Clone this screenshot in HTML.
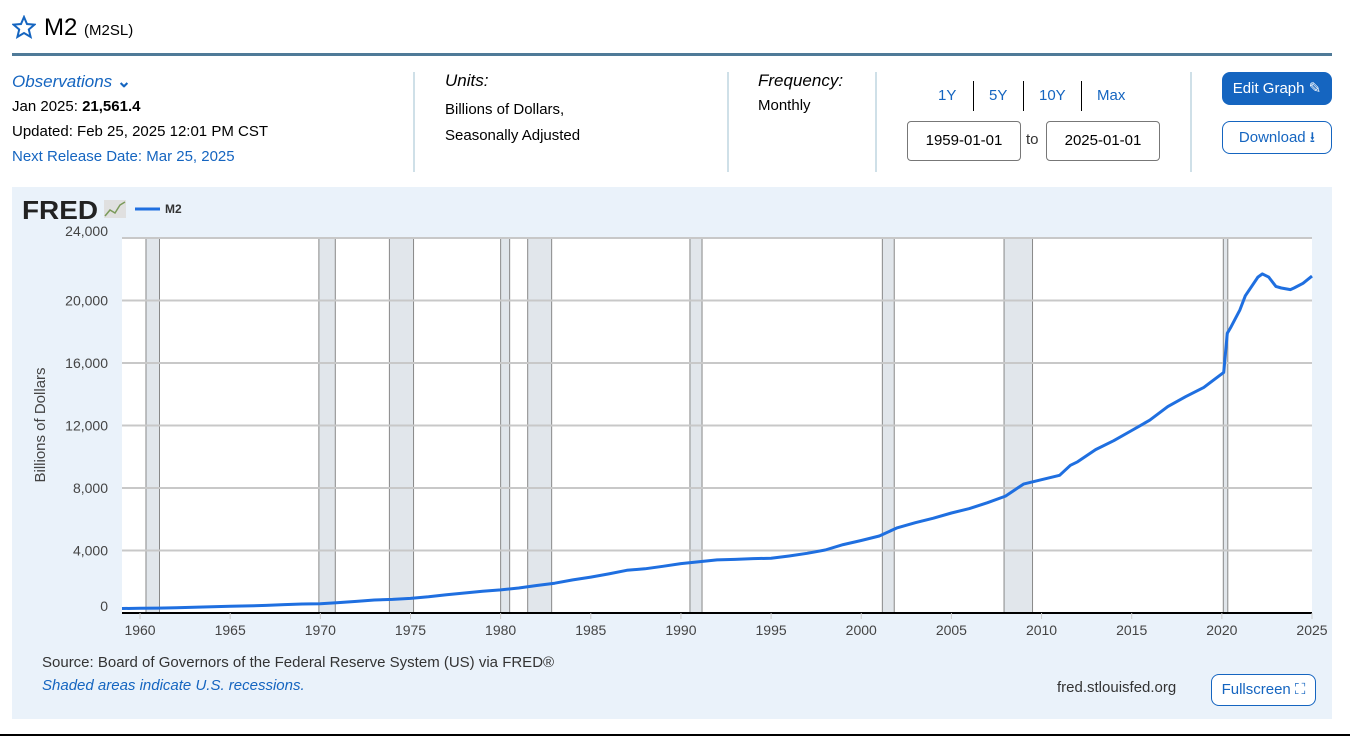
<!DOCTYPE html>
<html><head><meta charset="utf-8">
<style>
body{margin:0;width:1350px;height:737px;background:#fff;font-family:"Liberation Sans",sans-serif;position:relative;overflow:hidden;color:#000}
.abs{position:absolute}
.blue{color:#1565c0}
.vsep{position:absolute;width:2px;background:#cfe0e8}
.btn{position:absolute;border-radius:8px;font-size:15px;text-align:center;box-sizing:border-box}
.inp{position:absolute;border:1px solid #777;border-radius:4px;font-size:15px;text-align:center;box-sizing:border-box;height:40px;line-height:38px;width:114px}
</style></head><body>
<svg class="abs" style="left:12px;top:15px" width="24" height="24" viewBox="0 0 24 24"><path d="M12 2l3 7 7.5.6-5.7 4.9 1.8 7.4L12 18l-6.6 3.9 1.8-7.4L1.5 9.6 9 9z" fill="none" stroke="#1565c0" stroke-width="2"/></svg>
<div class="abs" style="left:44px;top:14px;font-size:24px">M2 <span style="font-size:15px">(M2SL)</span></div>
<div class="abs" style="left:12px;top:53px;width:1320px;height:3px;background:#4f7a98"></div>

<div class="abs blue" style="left:12px;top:72px;font-size:17px;font-style:italic">Observations <span style="font-style:normal;font-weight:bold">⌄</span></div>
<div class="abs" style="left:12px;top:98px;font-size:15px">Jan 2025: <b>21,561.4</b></div>
<div class="abs" style="left:12px;top:123px;font-size:15px">Updated: Feb 25, 2025 12:01 PM CST</div>
<div class="abs blue" style="left:12px;top:148px;font-size:15px">Next Release Date: Mar 25, 2025</div>
<div class="vsep" style="left:413px;top:72px;height:100px"></div>
<div class="abs" style="left:445px;top:71px;font-size:17px;font-style:italic">Units:</div>
<div class="abs" style="left:445px;top:97px;font-size:15px;line-height:26px">Billions of Dollars,<br>Seasonally Adjusted</div>
<div class="vsep" style="left:727px;top:72px;height:100px"></div>
<div class="abs" style="left:758px;top:71px;font-size:17px;font-style:italic">Frequency:</div>
<div class="abs" style="left:758px;top:97px;font-size:15px">Monthly</div>
<div class="vsep" style="left:875px;top:72px;height:100px"></div>
<div class="abs blue" style="left:938px;top:87px;font-size:15px">1Y</div>
<div class="abs" style="left:973px;top:81px;width:1px;height:30px;background:#000"></div>
<div class="abs blue" style="left:989px;top:87px;font-size:15px">5Y</div>
<div class="abs" style="left:1023px;top:81px;width:1px;height:30px;background:#000"></div>
<div class="abs blue" style="left:1039px;top:87px;font-size:15px">10Y</div>
<div class="abs" style="left:1081px;top:81px;width:1px;height:30px;background:#000"></div>
<div class="abs blue" style="left:1097px;top:87px;font-size:15px">Max</div>
<div class="inp" style="left:907px;top:121px">1959-01-01</div>
<div class="abs" style="left:1026px;top:131px;font-size:15px;color:#333">to</div>
<div class="inp" style="left:1046px;top:121px">2025-01-01</div>
<div class="vsep" style="left:1190px;top:72px;height:100px"></div>
<div class="btn" style="left:1222px;top:72px;width:110px;height:33px;line-height:33px;background:#1565c0;color:#fff">Edit Graph ✎</div>
<div class="btn" style="left:1222px;top:121px;width:110px;height:33px;line-height:31px;border:1px solid #1565c0;color:#1565c0">Download ⭳</div>

<div class="abs" style="left:12px;top:187px;width:1320px;height:532px;background:#eaf2fa"></div>
<svg id="chart" class="abs" style="left:0;top:0" width="1350" height="737"></svg>
<div class="abs" style="left:42px;top:654px;font-size:15px;color:#333">Source: Board of Governors of the Federal Reserve System (US) via FRED®</div>
<div class="abs blue" style="left:42px;top:677px;font-size:15px;font-style:italic">Shaded areas indicate U.S. recessions.</div>
<div class="abs" style="left:1057px;top:679px;font-size:15px;color:#333">fred.stlouisfed.org</div>
<div class="btn" style="left:1211px;top:674px;width:105px;height:32px;line-height:30px;border:1px solid #1565c0;color:#1565c0;background:#fff">Fullscreen ⛶</div>
<div class="abs" style="left:0;top:734px;width:1350px;height:2px;background:#000"></div>

<script>
const years=[1959,1960,1961,1962,1963,1964,1965,1966,1967,1968,1969,1970,1971,1972,1973,1974,1975,1976,1977,1978,1979,1980,1981,1982,1983,1984,1985,1986,1987,1988,1989,1990,1991,1992,1993,1994,1995,1996,1997,1998,1999,2000,2001,2002,2003,2004,2005,2006,2007,2008,2009,2010,2011,2011.6,2012,2013,2014,2015,2016,2017,2018,2019,2020.1,2020.3,2020.5,2021,2021.3,2022,2022.25,2022.6,2023,2023.3,2023.8,2024,2024.5,2025];
const m2Values=[287,300,315,340,368,398,430,455,488,535,575,590,665,740,830,870,935,1040,1170,1280,1390,1480,1600,1760,1910,2120,2300,2500,2730,2830,2990,3160,3280,3400,3430,3480,3500,3650,3820,4030,4380,4640,4930,5450,5780,6070,6400,6680,7060,7480,8250,8530,8810,9450,9680,10460,11030,11680,12340,13210,13850,14440,15400,17900,18300,19400,20300,21500,21700,21500,20900,20800,20700,20800,21100,21561];
const recStart=[1960.33,1969.92,1973.83,1980.0,1981.5,1990.5,2001.17,2007.92,2020.08];
const recEnd=[1961.08,1970.83,1975.17,1980.5,1982.83,1991.17,2001.83,2009.5,2020.33];
const yTicks=[0,4000,8000,12000,16000,20000,24000];
const yTickLabels=["0","4,000","8,000","12,000","16,000","20,000","24,000"];
const xTicks=[1960,1965,1970,1975,1980,1985,1990,1995,2000,2005,2010,2015,2020,2025];

const svg=document.getElementById('chart');const NS='http://www.w3.org/2000/svg';
const X0=122,X1=1312,Y0=613,Y1=238;
const xs=t=>X0+(t-1959)/(2025-1959)*(X1-X0);
const ys=v=>Y0-(v/24000)*(Y0-Y1);
function mk(tag,attrs,parent){const e=document.createElementNS(NS,tag);for(const k in attrs)e.setAttribute(k,attrs[k]);(parent||svg).appendChild(e);return e;}
const plot=mk('rect',{x:X0,y:Y1,width:X1-X0,height:Y0-Y1,fill:'#fff'});


recStart.forEach((s,i)=>{
  const r=mk('rect',{x:xs(s),y:Y1,width:xs(recEnd[i])-xs(s),height:Y0-Y1,fill:'#e1e6eb'});
  
  
  mk('line',{x1:xs(s),x2:xs(s),y1:Y1,y2:Y0,stroke:'#888','stroke-width':1});
  mk('line',{x1:xs(recEnd[i]),x2:xs(recEnd[i]),y1:Y1,y2:Y0,stroke:'#888','stroke-width':1});
});
yTicks.forEach((v,i)=>{
  if(v>0){const g=mk('line',{x1:X0,x2:X1,y1:ys(v),y2:ys(v),stroke:'#c8c8c8','stroke-width':2});
  
  }
  const t=mk('text',{x:X0-14,y:ys(v)-(v===0?2:-5)-(v===24000?7:0),'text-anchor':'end','font-size':14,fill:'#444','font-family':'Liberation Sans'});
  t.textContent=yTickLabels[i];
  
  
});
mk('line',{x1:X0,x2:X1,y1:Y0,y2:Y0,stroke:'#000','stroke-width':2});
xTicks.forEach(yr=>{
  mk('line',{x1:xs(yr),x2:xs(yr),y1:Y0,y2:Y0+6,stroke:'#ccc','stroke-width':1});
  const t=mk('text',{x:xs(yr),y:Y0+22,'text-anchor':'middle','font-size':14,fill:'#444','font-family':'Liberation Sans'});
  t.textContent=yr;
  
  
});
const yt=mk('text',{x:0,y:0,transform:'translate(45,425) rotate(-90)','text-anchor':'middle','font-size':15,fill:'#444','font-family':'Liberation Sans'});
yt.textContent='Billions of Dollars';


const line=mk('path',{d:years.map((y,i)=>(i?'L':'M')+xs(y).toFixed(1)+','+ys(m2Values[i]).toFixed(1)).join(''),fill:'none',stroke:'#1f6fe0','stroke-width':3,'stroke-linejoin':'round'});


// logo + legend
const logo=mk('text',{x:22,y:219,'font-size':26,'font-weight':'bold',fill:'#222','font-family':'Liberation Sans',textLength:76,lengthAdjust:'spacingAndGlyphs'});
logo.textContent='FRED';


mk('rect',{x:104,y:200,width:22,height:18,fill:'#e0e0e0'});
mk('polyline',{points:'105,216 110,210 115,213 120,205 125,202',fill:'none',stroke:'#7a9a5a','stroke-width':1.5});
mk('line',{x1:135,x2:160,y1:209,y2:209,stroke:'#1f6fe0','stroke-width':3});
const lg=mk('text',{x:165,y:213,'font-size':12,'font-weight':'bold',fill:'#333','font-family':'Liberation Sans'});
lg.textContent='M2';


</script>
</body></html>
